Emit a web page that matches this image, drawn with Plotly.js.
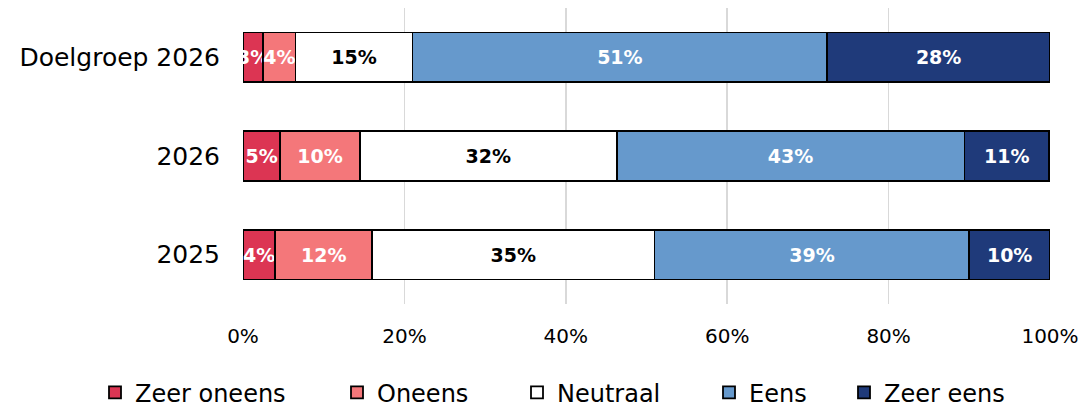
<!DOCTYPE html>
<html>
<head>
<meta charset="utf-8">
<script src="https://cdn.plot.ly/plotly-3.0.1.min.js"></script>
<style>html,body{margin:0;padding:0;background:#fff;}#chart{width:1084px;height:409px;}</style>
</head>
<body>
<div id="chart"></div>
<script>
const categories = ["2025", "2026", "Doelgroep 2026"];
const seriesNames = ["Zeer oneens", "Oneens", "Neutraal", "Eens", "Zeer eens"];
const zeerOneens = [4.0, 4.6, 2.5];
const oneens = [12.0, 9.9, 4.0];
const neutraal = [35.0, 31.8, 14.5];
const eens = [39.0, 43.1, 51.4];
const zeerEens = [10.0, 10.5, 27.6];
const tickVals = [0, 20, 40, 60, 80, 100];
const tickLabels = ["0%", "20%", "40%", "60%", "80%", "100%"];

const seriesValues = [zeerOneens, oneens, neutraal, eens, zeerEens];
const colors = ["#DC3553", "#F4777A", "#FFFFFF", "#6699CC", "#1F3A7A"];
const textColors = ["#FFFFFF", "#FFFFFF", "#000000", "#FFFFFF", "#FFFFFF"];
const FONT = "'DejaVu Sans', sans-serif";

// legend positions (pixels of text start) converted to paper coords
const plotLeft = 243, plotWidth = 807;
const legendTextStartPx = [135, 377, 557, 749, 884];
const legendNames = ["legend", "legend2", "legend3", "legend4", "legend5"];

const traces = seriesNames.map((name, i) => ({
  type: "bar",
  orientation: "h",
  name: name,
  y: categories,
  x: seriesValues[i],
  legend: legendNames[i],
  marker: { color: colors[i], line: { color: "#000000", width: 1.8 } },
  texttemplate: "%{x:.0f}%",
  textposition: "inside",
  insidetextanchor: "middle",
  constraintext: "none",
  textangle: 0,
  textfont: { family: FONT, size: 19, color: textColors[i], weight: "bold" },
  hoverinfo: "skip",
  width: 0.505
}));

const layout = {
  width: 1084,
  height: 409,
  barmode: "stack",
  margin: { l: 243, r: 34, t: 8, b: 105, autoexpand: false },
  paper_bgcolor: "#FFFFFF",
  plot_bgcolor: "#FFFFFF",
  font: { family: FONT, color: "#000000" },
  xaxis: {
    range: [0, 100],
    tickvals: tickVals,
    ticktext: tickLabels,
    showgrid: true,
    gridcolor: "#D9D9D9",
    gridwidth: 1.5,
    zeroline: false,
    showline: false,
    ticks: "",
    ticklabelstandoff: 18,
    tickfont: { family: FONT, size: 20, color: "#000000" },
    fixedrange: true
  },
  yaxis: {
    type: "category",
    categoryorder: "array",
    categoryarray: categories,
    range: [-0.5, 2.5],
    showgrid: false,
    zeroline: false,
    showline: false,
    ticks: "",
    ticklabelstandoff: 22,
    tickfont: { family: FONT, size: 25, color: "#000000" },
    fixedrange: true
  },
  showlegend: true
};

legendNames.forEach((ln, i) => {
  layout[ln] = {
    orientation: "h",
    x: (legendTextStartPx[i] - 40 - plotLeft) / plotWidth,
    xanchor: "left",
    y: -0.30,
    yanchor: "middle",
    font: { family: FONT, size: 24, color: "#000000" },
    itemwidth: 30,
    bgcolor: "rgba(0,0,0,0)"
  };
});

Plotly.newPlot("chart", traces, layout, { displayModeBar: false, staticPlot: true });
</script>
</body>
</html>
